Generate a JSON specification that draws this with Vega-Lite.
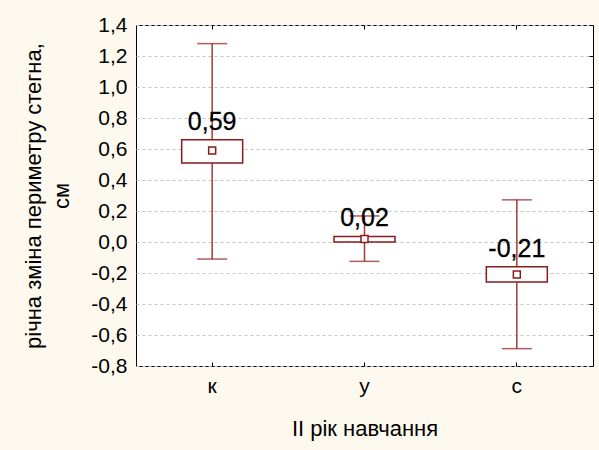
{
  "$schema": "https://vega.github.io/schema/vega-lite/v6.json",
  "width": 457,
  "height": 341,
  "autosize": {"type": "none"},
  "padding": {"left": 136, "top": 25, "right": 6, "bottom": 84},
  "background": "#FEF9EE",
  "data": {
    "values": [
      {"group": "к", "mean": 0.59, "box_lo": 0.51, "box_hi": 0.66, "wh_lo": -0.11, "wh_hi": 1.28},
      {"group": "у", "mean": 0.02, "box_lo": 0.0, "box_hi": 0.036, "wh_lo": -0.125, "wh_hi": 0.168},
      {"group": "с", "mean": -0.21, "box_lo": -0.258, "box_hi": -0.16, "wh_lo": -0.688, "wh_hi": 0.272}
    ]
  },
  "encoding": {
    "x": {"field": "group", "type": "nominal", "sort": null}
  },
  "layer": [
    {
      "mark": {"type": "rule", "color": "#A23A3A", "strokeWidth": 1.5},
      "encoding": {
        "x": {
          "field": "group", "type": "nominal", "sort": null,
          "axis": {
            "orient": "bottom", "title": "ІІ рік навчання", "labelAngle": 0,
            "domain": false, "ticks": true, "tickSize": -4, "tickColor": "#000",
            "labelPadding": 13, "titlePadding": 22
          }
        },
        "y": {
          "field": "wh_lo", "type": "quantitative",
          "scale": {"domain": [-0.8, 1.4], "nice": false, "zero": false},
          "axis": {
            "orient": "left",
            "title": ["річна зміна периметру стегна,", "см"],
            "values": [-0.8, -0.6, -0.4, -0.2, 0, 0.2, 0.4, 0.6, 0.8, 1.0, 1.2, 1.4],
            "format": ".1f", "domain": false, "ticks": false,
            "grid": true, "gridColor": "#C4C4C4", "gridDash": [3, 3], "gridWidth": 1,
            "labelPadding": 9, "titlePadding": 17, "titleLineHeight": 28
          }
        },
        "y2": {"field": "wh_hi"}
      }
    },
    {
      "mark": {"type": "tick", "color": "#8B1A1A", "thickness": 1.5, "size": 30},
      "encoding": {
        "x": {
          "field": "group", "type": "nominal", "sort": null,
          "axis": {"orient": "top", "title": null, "labels": false, "domain": false, "ticks": true, "tickSize": -4, "tickColor": "#000", "grid": false}
        },
        "y": {
          "field": "wh_hi", "type": "quantitative",
          "axis": {
            "orient": "right", "title": null, "labels": false, "domain": false, "grid": false,
            "values": [-0.8, -0.6, -0.4, -0.2, 0, 0.2, 0.4, 0.6, 0.8, 1.0, 1.2, 1.4],
            "ticks": true, "tickSize": -4, "tickColor": "#000"
          }
        }
      }
    },
    {
      "mark": {"type": "tick", "color": "#8B1A1A", "thickness": 1.5, "size": 30},
      "encoding": {
        "x": {"field": "group", "type": "nominal", "sort": null, "axis": null},
        "y": {"field": "wh_lo", "type": "quantitative", "axis": null}
      }
    },
    {
      "mark": {"type": "bar", "fill": "white", "stroke": "#8B1A1A", "strokeWidth": 1.5, "size": 61},
      "encoding": {
        "x": {"field": "group", "type": "nominal", "sort": null, "axis": null},
        "y": {"field": "box_lo", "type": "quantitative", "axis": null},
        "y2": {"field": "box_hi"}
      }
    },
    {
      "mark": {"type": "point", "shape": "square", "size": 49, "filled": false, "fill": "white", "fillOpacity": 1, "stroke": "#8B1A1A", "strokeWidth": 1.5, "opacity": 1},
      "encoding": {
        "x": {"field": "group", "type": "nominal", "sort": null, "axis": null},
        "y": {"field": "mean", "type": "quantitative", "axis": null}
      }
    },
    {
      "mark": {"type": "text", "baseline": "bottom", "dy": -5, "fontSize": 25, "color": "#000", "stroke": "#000", "strokeWidth": 0.3},
      "encoding": {
        "x": {"field": "group", "type": "nominal", "sort": null, "axis": null},
        "y": {"field": "box_hi", "type": "quantitative", "axis": null},
        "text": {"field": "mean", "type": "quantitative", "format": ".2f"}
      }
    }
  ],
  "resolve": {"axis": {"x": "independent", "y": "independent"}},
  "config": {
    "locale": {
      "number": {"decimal": ",", "thousands": " ", "grouping": [3], "currency": ["", ""], "minus": "-"}
    },
    "font": "Liberation Sans",
    "view": {"stroke": "#000", "strokeWidth": 1, "fill": "white"},
    "axis": {
      "labelFont": "Liberation Sans", "labelFontSize": 21, "labelColor": "#000",
      "titleFont": "Liberation Sans", "titleFontSize": 22, "titleFontWeight": "normal", "titleColor": "#000"
    },
    "text": {"font": "Liberation Sans"}
  }
}
